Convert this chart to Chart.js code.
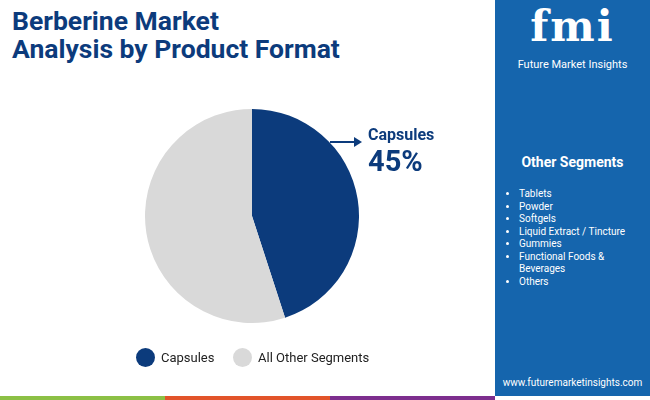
<!DOCTYPE html><html><head><meta charset="utf-8">
<script src="https://cdn.jsdelivr.net/npm/chart.js@4"></script>
<style>
body{margin:0;width:650px;height:400px;position:relative;overflow:hidden;font-family:Roboto,sans-serif;background:#fff}
.t{position:absolute;left:12px;top:7px;color:#0c3b7c;font-weight:bold;font-size:26.5px;line-height:28px}
#panel{position:absolute;left:495px;top:0;width:155px;height:396px;background:#1565ad}
#c{position:absolute;left:145px;top:109px;width:214px;height:214px}
.ab{position:absolute;color:#0c3b7c;font-weight:bold}
ul{margin:0;padding:0 0 0 24px;position:absolute;top:188px;left:0;color:#fff;font-size:10px;line-height:12.5px}
.strip{position:absolute;top:396px;height:4px;width:165px}
.leg{position:absolute;top:348px;font-size:13px;color:#222;display:flex;align-items:center}
.dot{width:19px;height:19px;border-radius:50%;margin-right:6px;display:inline-block}
</style></head><body>
<div class="t">Berberine Market<br>Analysis by Product Format</div>
<div id="panel">
 <div style="position:absolute;top:2px;left:0;width:155px;text-align:center;color:#fff;font-weight:bold;font-size:42px;line-height:50px;font-family:'DejaVu Serif',serif;letter-spacing:2px">fmi</div>
 <div style="position:absolute;top:58px;left:0;width:155px;text-align:center;color:#fff;font-size:11px">Future Market Insights</div>
 <div style="position:absolute;top:154px;left:0;width:155px;text-align:center;color:#fff;font-weight:bold;font-size:14px">Other Segments</div>
 <ul id="segs"></ul>
 <div style="position:absolute;top:377px;left:0;width:155px;text-align:center;color:#fff;font-size:10px">www.futuremarketinsights.com</div>
</div>
<div class="strip" style="left:0;background:#8cc045"></div>
<div class="strip" style="left:165px;background:#e2542a"></div>
<div class="strip" style="left:330px;background:#7d2e8e"></div>
<canvas id="c" width="214" height="214"></canvas>
<svg style="position:absolute;left:0;top:0" width="495" height="400"><line x1="330" y1="142" x2="356" y2="142" stroke="#0c3b7c" stroke-width="2"/><polygon points="362,142 354,137 354,147" fill="#0c3b7c"/></svg>
<div class="ab" style="left:368px;top:125px;font-size:16px">Capsules</div>
<div class="ab" style="left:368px;top:144px;font-size:29px">45%</div>
<div class="leg" style="left:136px"><span class="dot" style="background:#0c3b7c"></span>Capsules</div>
<div class="leg" style="left:233px"><span class="dot" style="background:#d9d9d9"></span>All Other Segments</div>
<script>
const categories=["Capsules","All Other Segments"];
const shares=[45,55];
const otherSegments=["Tablets","Powder","Softgels","Liquid Extract / Tincture","Gummies","Functional Foods & Beverages","Others"];
document.getElementById('segs').innerHTML=otherSegments.map(s=>'<li>'+s.replace('& ','&amp;<br>')+'</li>').join('');
new Chart(document.getElementById('c'),{type:'pie',data:{labels:categories,datasets:[{data:shares,backgroundColor:['#0c3b7c','#d9d9d9'],borderWidth:0}]},
options:{responsive:false,animation:false,plugins:{legend:{display:false},tooltip:{enabled:false}},layout:{padding:0}}});
</script></body></html>
